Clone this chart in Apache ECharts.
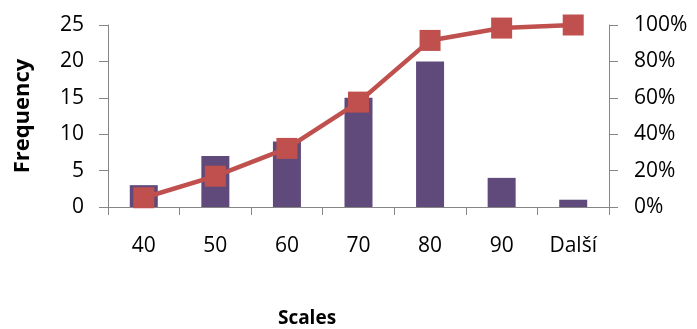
<!DOCTYPE html>
<html>
<head>
<meta charset="utf-8">
<script src="https://cdn.jsdelivr.net/npm/echarts@6/dist/echarts.min.js"></script>
<style>
  html, body { margin: 0; padding: 0; background: #fff; }
  #chart { width: 697px; height: 329px; }
</style>
</head>
<body>
<div id="chart"></div>
<script>
// Histogram bins, their counts and the cumulative percentage line
const categories = ['40', '50', '60', '70', '80', '90', 'Další'];
const frequency = [3, 7, 9, 15, 20, 4, 1];
const cumulativePct = [5.08, 16.95, 32.20, 57.63, 91.53, 98.31, 100];

const FONT = '"Open Sans", "Noto Sans", sans-serif';
const AXIS_COLOR = '#868686';
const TEXT_COLOR = '#000';

const chart = echarts.init(document.getElementById('chart'), null, { renderer: 'canvas' });

chart.setOption({
  animation: false,
  backgroundColor: '#fff',
  grid: { left: 108, right: 88, top: 25, bottom: 122, containLabel: false },
  xAxis: {
    type: 'category',
    data: categories,
    axisLine: { show: true, lineStyle: { color: AXIS_COLOR, width: 1 } },
    axisTick: { show: true, length: 8, lineStyle: { color: AXIS_COLOR } },
    axisLabel: { color: TEXT_COLOR, fontFamily: FONT, fontSize: 21, margin: 29 }
  },
  yAxis: [
    {
      type: 'value',
      min: 0, max: 25, interval: 5,
      name: 'Frequency',
      nameLocation: 'middle',
      nameRotate: 90,
      nameGap: 74,
      nameTextStyle: { color: TEXT_COLOR, fontFamily: FONT, fontSize: 22, fontWeight: 'bold' },
      axisLine: { show: true, lineStyle: { color: AXIS_COLOR, width: 1 } },
      axisTick: { show: true, length: 9, lineStyle: { color: AXIS_COLOR } },
      axisLabel: { color: TEXT_COLOR, fontFamily: FONT, fontSize: 21, margin: 24 },
      splitLine: { show: false }
    },
    {
      type: 'value',
      min: 0, max: 100, interval: 20,
      position: 'right',
      axisLine: { show: true, lineStyle: { color: AXIS_COLOR, width: 1 } },
      axisTick: { show: true, length: 9, lineStyle: { color: AXIS_COLOR } },
      axisLabel: { color: TEXT_COLOR, fontFamily: FONT, fontSize: 21, margin: 25, formatter: '{value}%' },
      splitLine: { show: false }
    }
  ],
  graphic: [
    {
      type: 'text',
      x: 307, y: 319,
      style: {
        text: 'Scales', fill: TEXT_COLOR,
        font: 'bold 19px ' + FONT,
        align: 'center', verticalAlign: 'middle'
      }
    }
  ],
  series: [
    {
      type: 'bar',
      data: frequency,
      yAxisIndex: 0,
      barWidth: 28,
      itemStyle: { color: '#5F4A7B' },
      z: 2
    },
    {
      type: 'line',
      data: cumulativePct,
      yAxisIndex: 1,
      symbol: 'rect',
      symbolSize: 21,
      lineStyle: { color: '#C0504D', width: 4.5 },
      itemStyle: { color: '#C0504D' },
      z: 3
    }
  ]
});
</script>
</body>
</html>
